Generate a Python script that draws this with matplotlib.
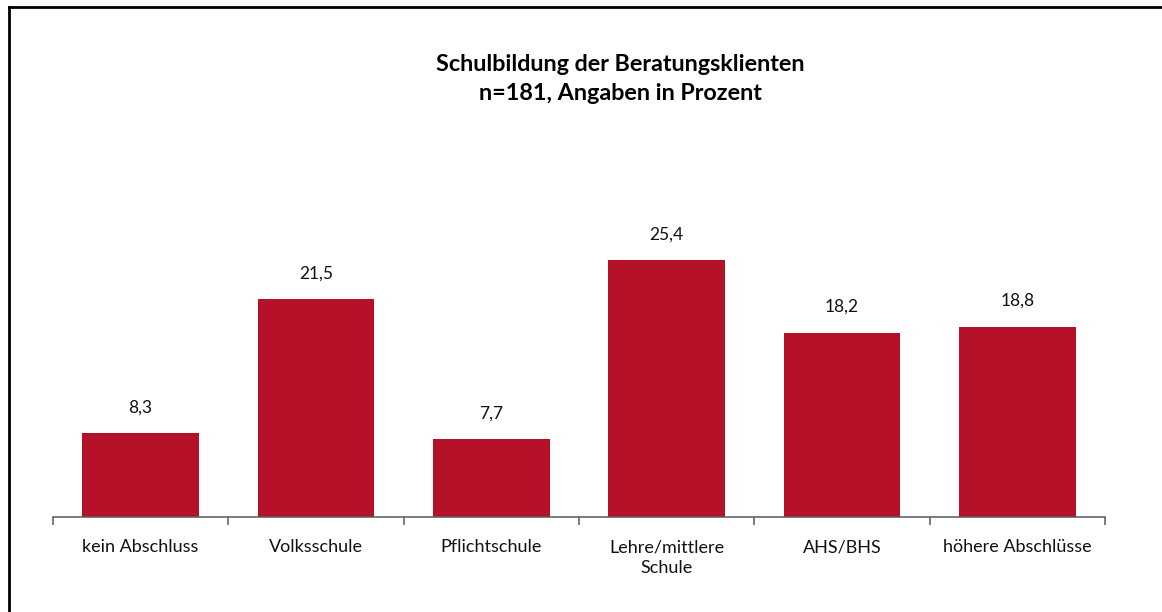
import matplotlib
matplotlib.use("Agg")
import matplotlib.pyplot as plt
import numpy as np
from matplotlib.lines import Line2D

plt.rcParams['font.family'] = ['Lato', 'DejaVu Sans']

# data
categories = ['kein Abschluss', 'Volksschule', 'Pflichtschule',
              'Lehre/mittlere\nSchule', 'AHS/BHS', 'höhere Abschlüsse']
values = [8.3, 21.5, 7.7, 25.4, 18.2, 18.8]
value_labels = ['8,3', '21,5', '7,7', '25,4', '18,2', '18,8']
title = 'Schulbildung der Beratungsklienten\nn=181, Angaben in Prozent'

bar_color = '#B51129'

fig = plt.figure(figsize=(11.62, 6.12), dpi=100)
W, H = 1162, 612

# axes placed in pixel terms: baseline at y=517, x from 53 to 1105
ax = fig.add_axes([53 / W, (H - 517) / H, (1105 - 53) / W, 405 / H])

x = np.arange(len(categories))
ax.bar(x, values, width=0.665, color=bar_color, zorder=2)
ax.set_xlim(-0.5, len(categories) - 0.5)
ax.set_ylim(0, 40)

for xi, v, lab in zip(x, values, value_labels):
    ax.annotate(lab, (xi, v), xytext=(0, 18.5), textcoords='offset points',
                ha='center', va='center', fontsize=12.5, color='#111111')

# axis styling: only the bottom line, ticks at category boundaries
for s in ['left', 'right', 'top']:
    ax.spines[s].set_visible(False)
ax.spines['bottom'].set_color('#595959')
ax.spines['bottom'].set_linewidth(1.1)
ax.set_yticks([])
ax.set_xticks(x)
ax.set_xticklabels(categories, fontsize=13, color='#111111', linespacing=1.4)
ax.tick_params(axis='x', which='major', length=0, pad=16)
ax.set_xticks(np.arange(len(categories) + 1) - 0.5, minor=True)
ax.tick_params(axis='x', which='minor', length=6, width=1.1, color='#595959')

fig.text(620 / W, 1 - 79 / H, title, ha='center', va='center',
         fontsize=16.8, fontweight='bold', linespacing=1.45)

# frame lines: left and top only
fig.add_artist(Line2D([8.5 / W, 8.5 / W], [0, 1 - 7 / H], transform=fig.transFigure,
                      color='black', lw=2))
fig.add_artist(Line2D([8.5 / W, 1], [1 - 7 / H, 1 - 7 / H], transform=fig.transFigure,
                      color='black', lw=2))

fig.savefig('out.png', dpi=100)
